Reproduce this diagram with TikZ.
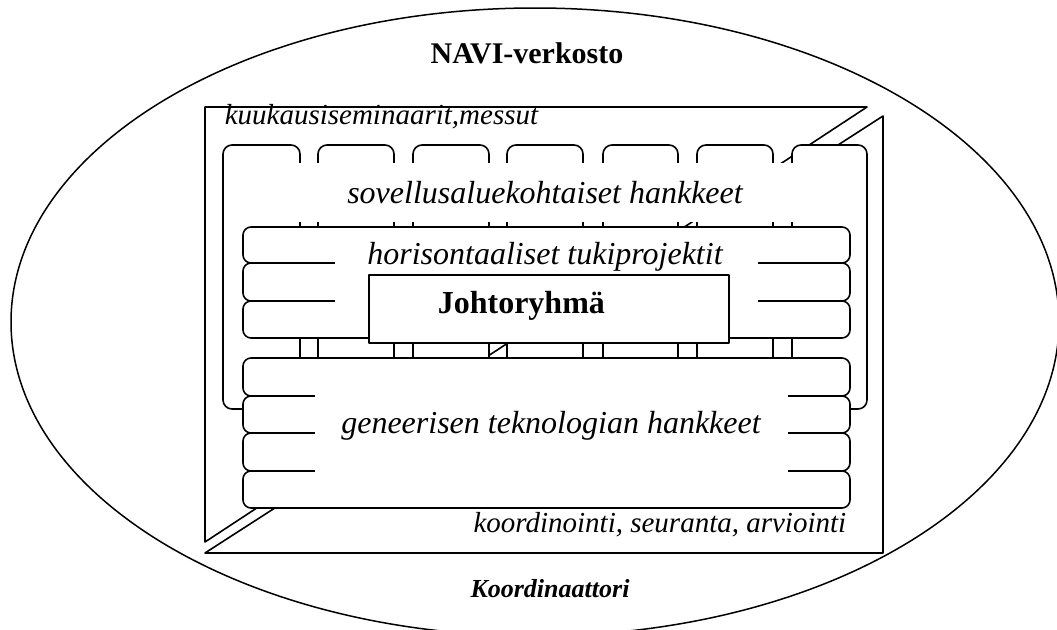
\documentclass[tikz,border=0pt]{standalone}
\usepackage{fontspec}
\setmainfont{Liberation Serif}
\begin{document}
\begin{tikzpicture}[x=1pt,y=-1pt,line width=1.6pt,line join=round,
  lbl/.style={font=\fontsize{32}{38}\selectfont\itshape,inner sep=0pt},
  smalllbl/.style={font=\fontsize{29}{34}\selectfont\itshape,inner sep=0pt},
  tri/.style={draw,fill=white},
  column/.style={draw,fill=white,rounded corners=9pt},
  stackbox/.style={draw,fill=white,rounded corners=8pt},
  cover/.style={fill=white,draw=none}]
\useasboundingbox (0,0) rectangle (1057,629);
% outer ellipse
\draw[line width=1.5pt] (535,322) ellipse [x radius=524, y radius=314];
\node[font=\fontsize{30}{36}\selectfont\bfseries,inner sep=0pt,anchor=base] (navi) at (527,63) {NAVI-verkosto};
\node[font=\fontsize{26}{31}\selectfont\bfseries\itshape,inner sep=0pt,anchor=base] (koord) at (550,597) {Koordinaattori};
% two triangles
\path[tri] (205,107) -- (867,107) -- (205,542) -- cycle;
\path[tri] (883,116) -- (883,553) -- (205,553) -- cycle;
\node[smalllbl,anchor=base west] (kuu) at (224,124) {kuukausiseminaarit,messut};
\node[smalllbl,anchor=base east] (koo) at (847,532) {koordinointi, seuranta, arviointi};
% columns
\foreach \l/\r in {223/300,318/394,413/489,507/583,603/678,697/773,792/867}
  \path[column] (\l,145) rectangle (\r,409);
\path[cover] (224.6,163) rectangle (865.4,222);
\node[lbl,anchor=base] (sov) at (545,203) {sovellusaluekohtaiset hankkeet};
% horizontal support projects
\foreach \t/\b in {227/263,263/301,301/338}
  \path[stackbox] (243,\t) rectangle (850,\b);
\path[cover] (335,228.6) rectangle (758,336.4);
\node[lbl,anchor=base] (hor) at (545,264) {horisontaaliset tukiprojektit};
% steering group
\node[draw,fill=white,minimum width=360pt,minimum height=68pt,inner sep=0pt] (joh) at (549,309) {};
\node[font=\fontsize{32}{38}\selectfont\bfseries,inner sep=0pt,anchor=base west] (johtxt) at (437,313) {Johtoryhmä};
% generic technology projects
\foreach \t/\b in {358/396,396/433,433/471,471/508}
  \path[stackbox] (243,\t) rectangle (850,\b);
\path[cover] (315,359.6) rectangle (788,506.4);
\node[lbl,anchor=base] (gen) at (551,433) {geneerisen teknologian hankkeet};
\end{tikzpicture}
\end{document}
